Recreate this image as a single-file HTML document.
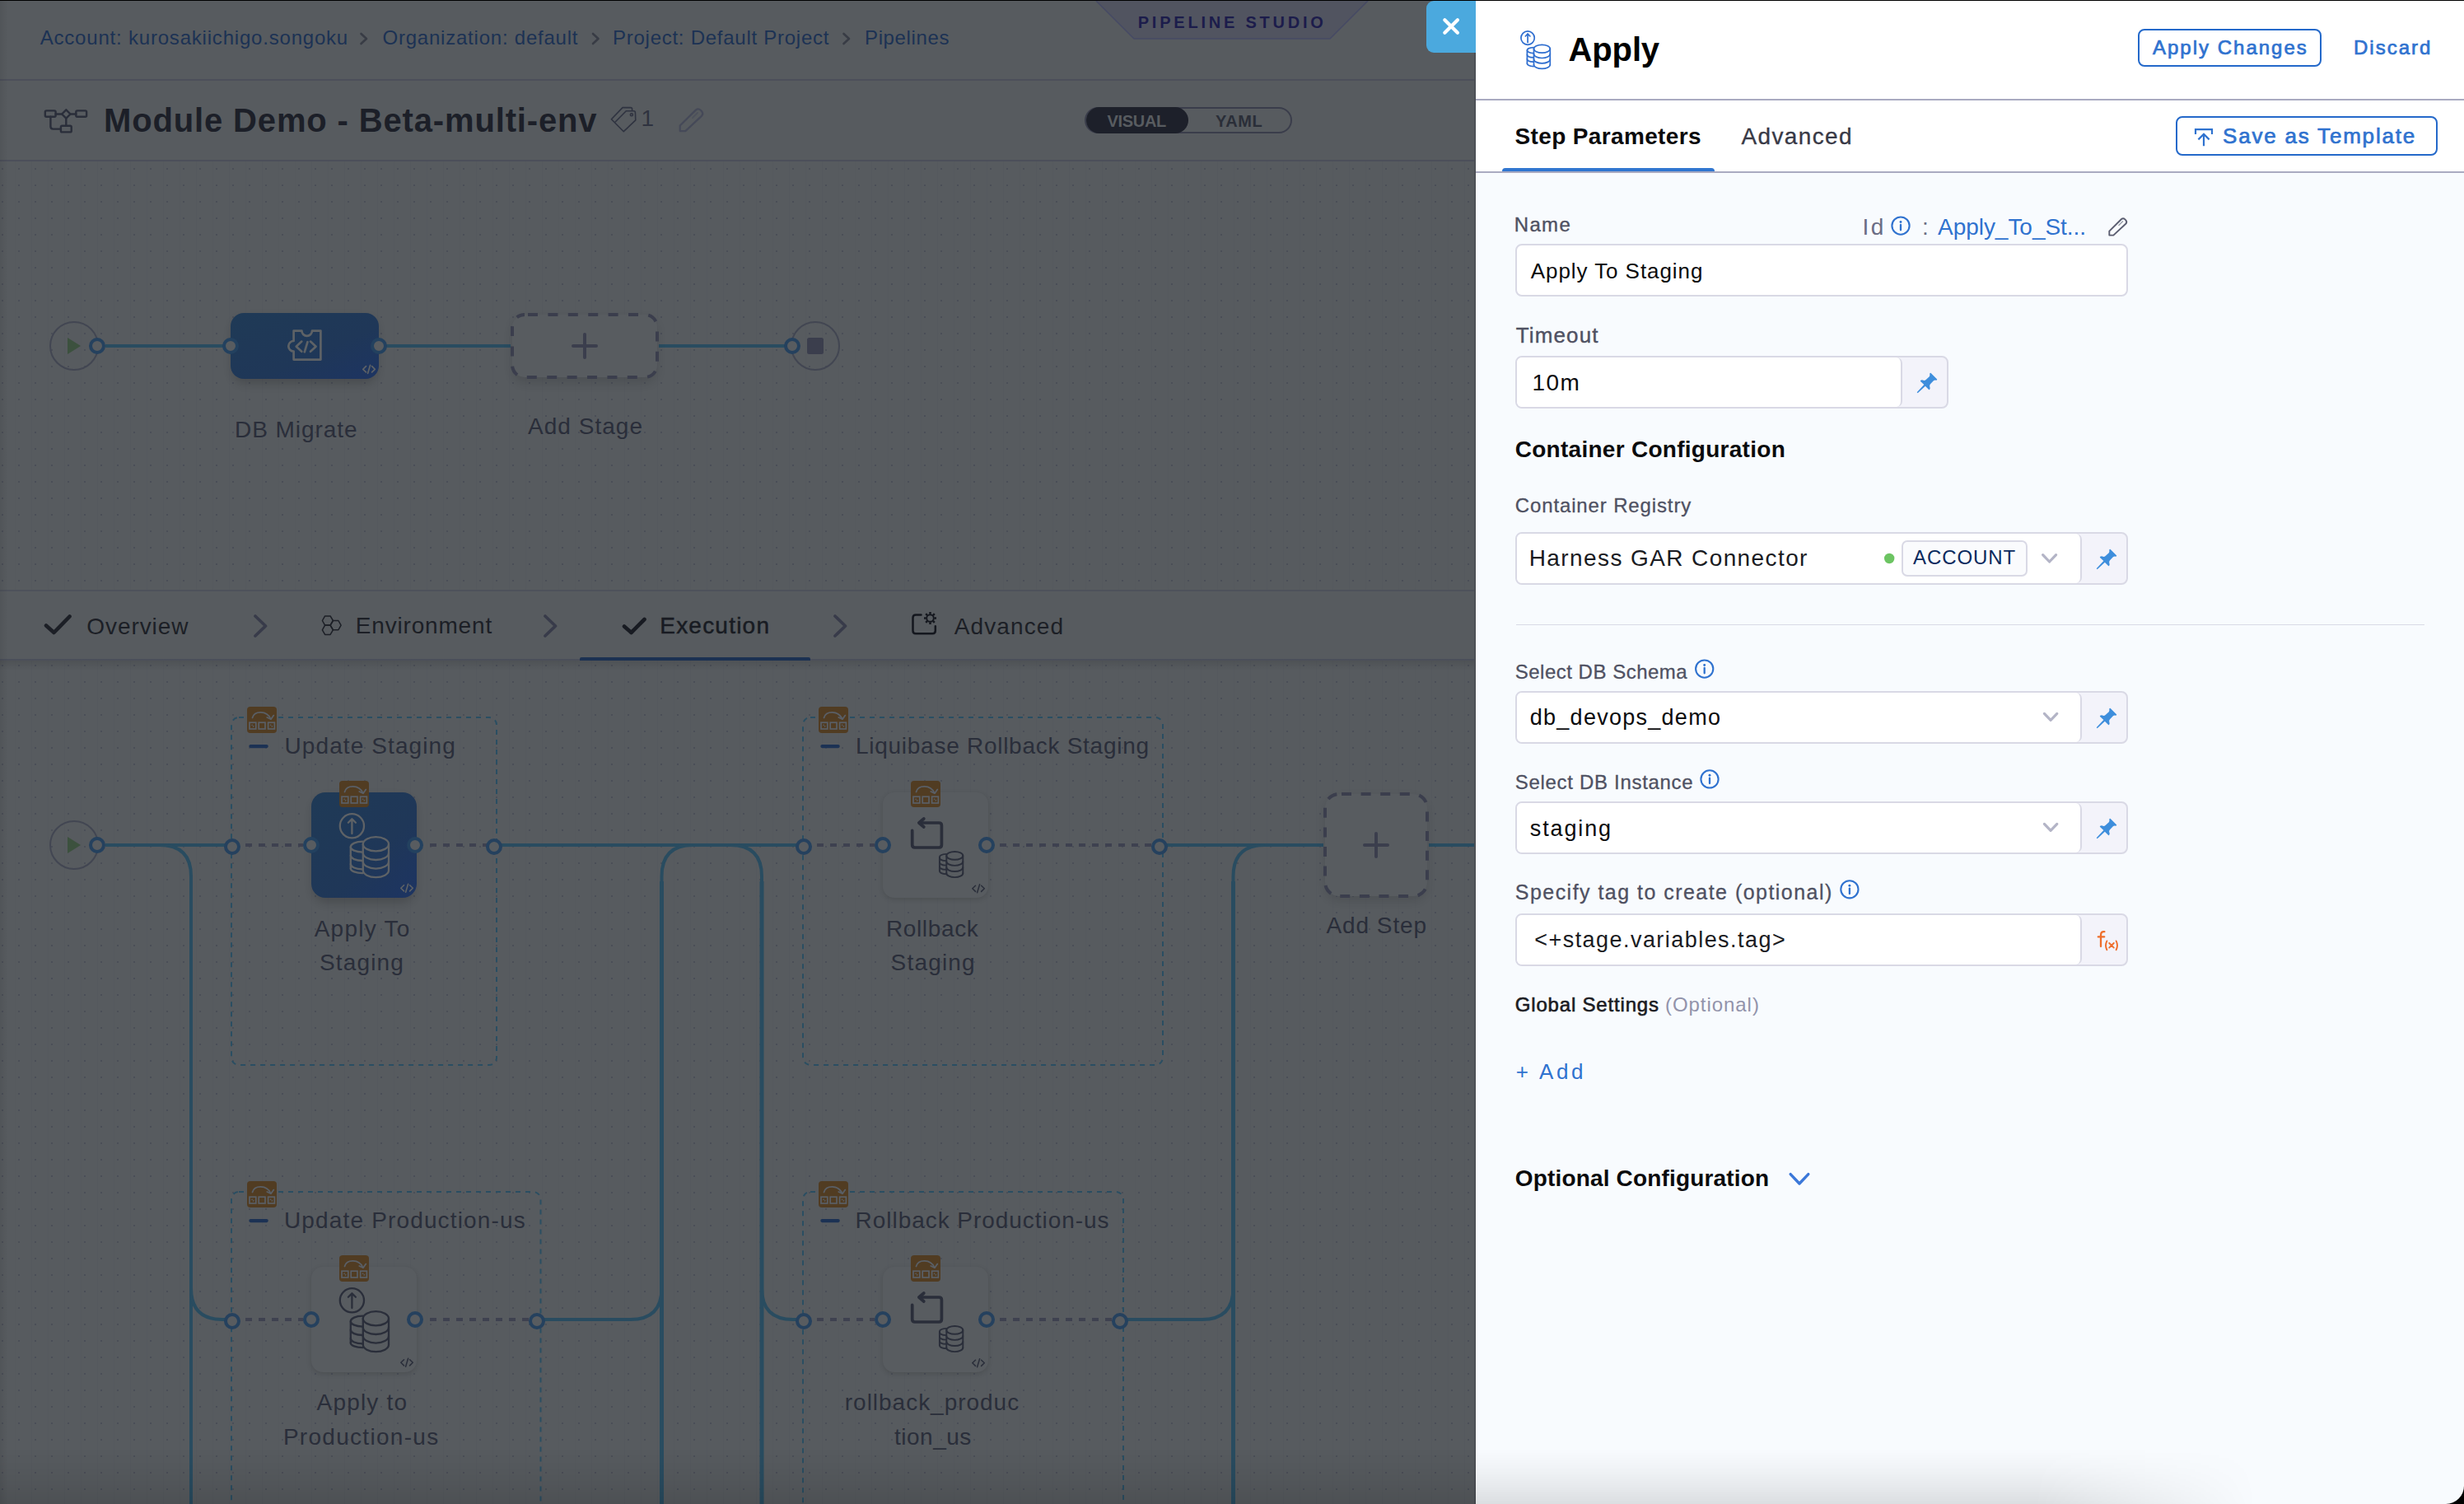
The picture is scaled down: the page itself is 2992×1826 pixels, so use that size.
<!DOCTYPE html>
<html><head><meta charset="utf-8"><title>Pipeline Studio</title>
<style>
html,body{margin:0;padding:0}
body{width:2992px;height:1826px;position:relative;overflow:hidden;background:#575B5F;font-family:"Liberation Sans",sans-serif}
.t{position:absolute;white-space:pre;line-height:1}
.abs{position:absolute}

.inp{position:absolute;box-sizing:border-box;border:2px solid #D9D9E5;border-radius:8px;background:#fff}
.inpw{position:absolute;box-sizing:border-box;border:2px solid #D9D9E5;border-radius:8px;background:#F3F3FA;overflow:hidden}
.inpw .w{position:absolute;left:0;top:0;bottom:0;background:#fff;border-right:2px solid #D9D9E5;border-radius:0 7px 7px 0;box-sizing:border-box}
.btn{position:absolute;box-sizing:border-box;border:2px solid #2469CA;border-radius:8px;background:#fff}

</style></head><body>
<svg class="abs" style="left:0;top:0" width="1792" height="1826" viewBox="0 0 1792 1826"><defs>
<pattern id="dots1" x="0" y="0" width="20" height="20" patternUnits="userSpaceOnUse"><rect x="18" y="0" width="1" height="20" fill="#55595E"/><rect x="2" y="4" width="2" height="2" fill="#4A4E57"/></pattern>
<pattern id="dots2" x="0" y="0" width="20" height="20" patternUnits="userSpaceOnUse"><rect x="18" y="0" width="1" height="20" fill="#55595E"/><rect x="2" y="7" width="2" height="2" fill="#4A4E57"/></pattern>
<linearGradient id="sel" x1="0" y1="0" x2="1" y2="1"><stop offset="0" stop-color="#1F3A56"/><stop offset="0.6" stop-color="#1F3758"/><stop offset="1" stop-color="#1D3462"/></linearGradient>
<linearGradient id="tabsh" x1="0" y1="0" x2="0" y2="1"><stop offset="0" stop-color="#000" stop-opacity="0.10"/><stop offset="1" stop-color="#000" stop-opacity="0"/></linearGradient>
<linearGradient id="lsh" x1="0" y1="0" x2="1" y2="0"><stop offset="0" stop-color="#000" stop-opacity="0.07"/><stop offset="1" stop-color="#000" stop-opacity="0"/></linearGradient>
<filter id="blur3" x="-30%" y="-30%" width="160%" height="160%"><feGaussianBlur stdDeviation="3"/></filter>
<filter id="blur6" x="-30%" y="-30%" width="160%" height="160%"><feGaussianBlur stdDeviation="6"/></filter>
</defs><rect x="0" y="196" width="1792" height="520" fill="url(#dots1)"/><rect x="0" y="802" width="1792" height="1024" fill="url(#dots2)"/><rect x="0" y="96" width="1792" height="2" fill="#4C4F5A"/><rect x="0" y="194" width="1792" height="2" fill="#4C4F5A"/><polygon points="1331,1 1661,1 1615,47 1377,47" fill="#515460"/><path d="M1331 1 L1377 47 L1615 47 L1661 1" fill="none" stroke="#464A64" stroke-width="1.6"/><path d="M438.5 41 L445.0 47 L438.5 53" fill="none" stroke="#383C45" stroke-width="2.6" stroke-linecap="round" stroke-linejoin="round"/><path d="M720 41 L726.5 47 L720 53" fill="none" stroke="#383C45" stroke-width="2.6" stroke-linecap="round" stroke-linejoin="round"/><path d="M1024.5 41 L1031.0 47 L1024.5 53" fill="none" stroke="#383C45" stroke-width="2.6" stroke-linecap="round" stroke-linejoin="round"/><g fill="none" stroke="#2A2E3A" stroke-width="2.4" stroke-linejoin="round" stroke-linecap="round"><rect x="54.8" y="134.4" width="12.8" height="7.4" rx="1.5"/><rect x="92.3" y="134.4" width="12.8" height="7.4" rx="1.5"/><rect x="73.9" y="152.8" width="12.8" height="7.6" rx="1.5"/><path d="M80.3 133.3 L85.5 138.5 L80.3 143.7 L75.1 138.5 Z"/><path d="M67.6 138.5 H75.1 M85.5 138.5 H92.3 M80.3 143.7 V152.8 M61.4 141.8 V153.6 Q61.4 156.6 64.4 156.6 H73.9"/></g><g fill="none" stroke="#2F3340" stroke-width="1.6" stroke-linejoin="round" stroke-linecap="round"><path d="M746.9 148.3 L760.3 134.7 H769.6 Q771.4 134.7 771.4 136.5 L771.8 145.8 L757.3 159.7 L742.4 144.8 L756 130.6 H765.8 Q767.6 130.6 767.6 132.4 V134.4"/><circle cx="766.9" cy="139.2" r="1.5"/></g><g transform="translate(824.5,131.5) scale(1.0)" fill="none" stroke="#454958" stroke-width="2.2" stroke-linejoin="round" stroke-linecap="round"><path d="M1.2 27.6 V21 L20.6 1.9 Q23.4 -0.4 26.3 2.3 L27.8 3.9 Q30 6.8 27.4 9.4 L7.8 27.6 Z"/><path d="M16.4 11.6 L22.6 5.4" stroke-width="1.54" opacity="0.6"/></g><rect x="1318" y="131" width="250" height="30" rx="15" fill="none" stroke="#3A3D4B" stroke-width="2"/><rect x="1319" y="130" width="124" height="32" rx="16" fill="#1D202A"/><g stroke="#294C60" stroke-width="4" fill="none"><path d="M128 420 H272 M468 420 H620 M800 420 H954"/></g><circle cx="90" cy="420" r="29" fill="none" stroke="#424652" stroke-width="2"/><polygon points="82,410 98,420 82,430" fill="#3C513E"/><circle cx="990" cy="420" r="29" fill="none" stroke="#424652" stroke-width="2"/><rect x="980" y="410" width="20" height="20" rx="2.5" fill="#3B3E4D"/><rect x="282" y="386" width="176" height="80" rx="16" fill="#000" opacity="0.16" filter="url(#blur6)"/><rect x="280" y="380" width="180" height="80" rx="16" fill="url(#sel)"/><g fill="none" stroke="#5E6266" stroke-width="2.7" stroke-linejoin="round" stroke-linecap="round"><path d="M356.6 401.6 H366.4 A6.3 6.3 0 0 0 379 401.6 H389.4 V436.6 H356.6 V426.6 A6.3 6.3 0 0 1 356.6 414 Z"/><path d="M366.3 414.6 L359.7 420.7 L366.3 426.8 M373.5 415.2 L369.8 427.3 M377 414.6 L383.6 420.7 L377 426.8"/></g><g transform="translate(440,442.5)" fill="none" stroke="#5E6266" stroke-width="1.7" stroke-linecap="round" stroke-linejoin="round"><path d="M4.5 2.2 L0.8 5.8 L4.5 9.4"/><path d="M9.6 0.8 L6.6 10.8"/><path d="M11.6 2.2 L15.3 5.8 L11.6 9.4"/></g><rect x="622" y="386" width="176" height="80" rx="16" fill="#000" opacity="0.10" filter="url(#blur6)"/><rect x="622" y="382" width="176" height="76" rx="15" fill="#585C60" stroke="#3B3E4D" stroke-width="4" stroke-dasharray="12 12.4" stroke-dashoffset="-4"/><path d="M696 420 H724 M710 406 V434" stroke="#3B3E4D" stroke-width="4" stroke-linecap="round"/><circle cx="118" cy="420" r="8" fill="#585C60" stroke="#25415E" stroke-width="4"/><circle cx="280" cy="420" r="8" fill="#585C60" stroke="#23415F" stroke-width="4"/><circle cx="460" cy="420" r="8" fill="#585C60" stroke="#23415F" stroke-width="4"/><circle cx="962" cy="420" r="8" fill="#585C60" stroke="#25415E" stroke-width="4"/><rect x="0" y="716" width="1792" height="2" fill="#4E525B"/><rect x="0" y="800" width="1792" height="2" fill="#4B4F5A"/><rect x="0" y="802" width="1792" height="12" fill="url(#tabsh)"/><rect x="704" y="798" width="280" height="4" rx="2" fill="#1C3152"/><rect x="704" y="800" width="280" height="2" fill="#1C3152"/><path d="M56 759.5 L65.5 768 L84.5 748.5" fill="none" stroke="#1C1F26" stroke-width="4.6" stroke-linecap="round" stroke-linejoin="round"/><path d="M758 760.5 L766.5 768 L782.5 752" fill="none" stroke="#181B22" stroke-width="4.6" stroke-linecap="round" stroke-linejoin="round"/><path d="M310 748 L322.5 760 L310 772" fill="none" stroke="#383B4A" stroke-width="3.7" stroke-linecap="round" stroke-linejoin="round"/><path d="M662 748 L674.5 760 L662 772" fill="none" stroke="#383B4A" stroke-width="3.7" stroke-linecap="round" stroke-linejoin="round"/><path d="M1014 748 L1026.5 760 L1014 772" fill="none" stroke="#383B4A" stroke-width="3.7" stroke-linecap="round" stroke-linejoin="round"/><g fill="none" stroke="#1C1F26" stroke-width="1.5" stroke-linejoin="round"><polygon points="404.4,753.5 401.1,759.1 394.6,759.1 391.4,753.5 394.6,747.9 401.1,747.9"/><polygon points="404.4,764.8 401.1,770.4 394.6,770.4 391.4,764.8 394.6,759.1 401.1,759.1"/><polygon points="414.1,759.1 410.9,764.7 404.4,764.7 401.1,759.1 404.4,753.5 410.9,753.5"/></g><g fill="none" stroke="#14171E" stroke-width="2.5" stroke-linejoin="round" stroke-linecap="round"><path d="M1118.5 746.5 H1112 Q1108.5 746.5 1108.5 750 V765.7 Q1108.5 769.2 1112 769.2 H1132.3 Q1135.8 769.2 1135.8 765.7 V760.2"/></g><g transform="translate(1129.5,750.5)" stroke="#14171E" fill="none" stroke-linecap="butt"><circle r="4.3" stroke-width="1.9"/><path d="M4.90 0.00 L7.50 0.00" stroke-width="2.5"/><path d="M3.46 3.46 L5.30 5.30" stroke-width="2.5"/><path d="M0.00 4.90 L0.00 7.50" stroke-width="2.5"/><path d="M-3.46 3.46 L-5.30 5.30" stroke-width="2.5"/><path d="M-4.90 0.00 L-7.50 0.00" stroke-width="2.5"/><path d="M-3.46 -3.46 L-5.30 -5.30" stroke-width="2.5"/><path d="M-0.00 -4.90 L-0.00 -7.50" stroke-width="2.5"/><path d="M3.46 -3.46 L5.30 -5.30" stroke-width="2.5"/></g><g stroke="#294C60" stroke-width="4" fill="none"><path d="M128 1026 H274"/><path d="M194 1026 Q232 1026 232 1064 V1826"/><path d="M232 1564 Q232 1602 270 1602 H274"/><path d="M608 1026 H968"/><path d="M660 1602 H765.5 Q803.5 1602 803.5 1564 V1064 Q803.5 1026 841.5 1026"/><path d="M887 1026 Q925 1026 925 1064 V1564 Q925 1602 963 1602 H968"/><path d="M1416 1026 H1607 M1735 1026 H1792"/><path d="M1368 1602 H1459.5 Q1497.5 1602 1497.5 1564 V1064 Q1497.5 1026 1535.5 1026"/></g><g stroke="#294C60" stroke-width="5" fill="none"><path d="M803.5 1070 V1826 M925 1070 V1826 M1497.5 1070 V1826"/></g><g stroke="#3E4150" stroke-width="4" fill="none" stroke-dasharray="8 8"><path d="M298 1026 H368 M522 1026 H592"/><path d="M298 1602 H368 M522 1602 H644"/><path d="M992 1026 H1062 M1214 1026 H1400"/><path d="M992 1602 H1062 M1214 1602 H1352"/></g><rect x="281" y="871" width="322" height="422" rx="9" fill="none" stroke="#2A4E62" stroke-width="2" stroke-dasharray="6 6"/><rect x="975" y="871" width="437" height="422" rx="9" fill="none" stroke="#2A4E62" stroke-width="2" stroke-dasharray="6 6"/><rect x="281" y="1447" width="375.5" height="500" rx="9" fill="none" stroke="#2A4E62" stroke-width="2" stroke-dasharray="6 6"/><rect x="975" y="1447" width="389" height="500" rx="9" fill="none" stroke="#2A4E62" stroke-width="2" stroke-dasharray="6 6"/><g transform="translate(300,858)"><rect width="36" height="32" rx="4" fill="#513C22"/><path d="M6.5 13.5 C 9 4.5, 24 4.5, 28.5 14.5" fill="none" stroke="#5A5F66" stroke-width="1.8" stroke-linecap="round"/><path d="M24.3 13 L29 15.3 L32.3 10.6" fill="none" stroke="#5A5F66" stroke-width="1.8" stroke-linecap="round" stroke-linejoin="round"/><rect x="3" y="19.2" width="7.8" height="7.8" fill="none" stroke="#5A5F66" stroke-width="1.7"/><rect x="14.2" y="19.2" width="7.8" height="7.8" fill="none" stroke="#5A5F66" stroke-width="1.7"/><rect x="25.6" y="19.2" width="7.8" height="7.8" fill="none" stroke="#5A5F66" stroke-width="1.7"/><path d="M5.6 21.8 L8.2 24.4" stroke="#5A5F66" stroke-width="1.6" stroke-dasharray="1.3 1.0"/><path d="M28.200000000000003 21.8 L30.8 24.4" stroke="#5A5F66" stroke-width="1.6" stroke-dasharray="1.3 1.0"/></g><rect x="302.3" y="904" width="23.5" height="4.2" rx="2.1" fill="#1C3254"/><g transform="translate(994,858)"><rect width="36" height="32" rx="4" fill="#513C22"/><path d="M6.5 13.5 C 9 4.5, 24 4.5, 28.5 14.5" fill="none" stroke="#5A5F66" stroke-width="1.8" stroke-linecap="round"/><path d="M24.3 13 L29 15.3 L32.3 10.6" fill="none" stroke="#5A5F66" stroke-width="1.8" stroke-linecap="round" stroke-linejoin="round"/><rect x="3" y="19.2" width="7.8" height="7.8" fill="none" stroke="#5A5F66" stroke-width="1.7"/><rect x="14.2" y="19.2" width="7.8" height="7.8" fill="none" stroke="#5A5F66" stroke-width="1.7"/><rect x="25.6" y="19.2" width="7.8" height="7.8" fill="none" stroke="#5A5F66" stroke-width="1.7"/><path d="M5.6 21.8 L8.2 24.4" stroke="#5A5F66" stroke-width="1.6" stroke-dasharray="1.3 1.0"/><path d="M28.200000000000003 21.8 L30.8 24.4" stroke="#5A5F66" stroke-width="1.6" stroke-dasharray="1.3 1.0"/></g><rect x="996.3" y="904" width="23.5" height="4.2" rx="2.1" fill="#1C3254"/><g transform="translate(300,1434)"><rect width="36" height="32" rx="4" fill="#513C22"/><path d="M6.5 13.5 C 9 4.5, 24 4.5, 28.5 14.5" fill="none" stroke="#5A5F66" stroke-width="1.8" stroke-linecap="round"/><path d="M24.3 13 L29 15.3 L32.3 10.6" fill="none" stroke="#5A5F66" stroke-width="1.8" stroke-linecap="round" stroke-linejoin="round"/><rect x="3" y="19.2" width="7.8" height="7.8" fill="none" stroke="#5A5F66" stroke-width="1.7"/><rect x="14.2" y="19.2" width="7.8" height="7.8" fill="none" stroke="#5A5F66" stroke-width="1.7"/><rect x="25.6" y="19.2" width="7.8" height="7.8" fill="none" stroke="#5A5F66" stroke-width="1.7"/><path d="M5.6 21.8 L8.2 24.4" stroke="#5A5F66" stroke-width="1.6" stroke-dasharray="1.3 1.0"/><path d="M28.200000000000003 21.8 L30.8 24.4" stroke="#5A5F66" stroke-width="1.6" stroke-dasharray="1.3 1.0"/></g><rect x="302.3" y="1480" width="23.5" height="4.2" rx="2.1" fill="#1C3254"/><g transform="translate(994,1434)"><rect width="36" height="32" rx="4" fill="#513C22"/><path d="M6.5 13.5 C 9 4.5, 24 4.5, 28.5 14.5" fill="none" stroke="#5A5F66" stroke-width="1.8" stroke-linecap="round"/><path d="M24.3 13 L29 15.3 L32.3 10.6" fill="none" stroke="#5A5F66" stroke-width="1.8" stroke-linecap="round" stroke-linejoin="round"/><rect x="3" y="19.2" width="7.8" height="7.8" fill="none" stroke="#5A5F66" stroke-width="1.7"/><rect x="14.2" y="19.2" width="7.8" height="7.8" fill="none" stroke="#5A5F66" stroke-width="1.7"/><rect x="25.6" y="19.2" width="7.8" height="7.8" fill="none" stroke="#5A5F66" stroke-width="1.7"/><path d="M5.6 21.8 L8.2 24.4" stroke="#5A5F66" stroke-width="1.6" stroke-dasharray="1.3 1.0"/><path d="M28.200000000000003 21.8 L30.8 24.4" stroke="#5A5F66" stroke-width="1.6" stroke-dasharray="1.3 1.0"/></g><rect x="996.3" y="1480" width="23.5" height="4.2" rx="2.1" fill="#1C3254"/><rect x="380" y="968" width="124" height="128" rx="17" fill="#000" opacity="0.16" filter="url(#blur6)"/><rect x="378" y="962" width="128" height="128" rx="17" fill="url(#sel)"/><g transform="translate(378,962) scale(1.0)" fill="none" stroke="#5E6266" stroke-width="2.3" stroke-linecap="round" stroke-linejoin="round"><circle cx="49.4" cy="40.8" r="14.6"/><path d="M49.4 32.6 V50 M44.9 36.8 L49.4 32.2 L53.9 36.8"/><ellipse cx="78.4" cy="62.8" rx="15.6" ry="8.6"/><path d="M62.8 62.8 V94.6 M94 62.8 V94.6"/><path d="M62.8 73.4 A15.6 8.6 0 0 0 94 73.4"/><path d="M62.8 84.0 A15.6 8.6 0 0 0 94 84.0"/><path d="M62.8 94.6 A15.6 8.6 0 0 0 94 94.6"/><path d="M62.4 59.6 C 54 59.8, 47.8 62.6, 47.8 66.2 V92.4"/><path d="M47.8 66.2 C 47.8 69.8, 54 72.4, 62.4 72.60000000000001"/><path d="M47.8 76.6 C 47.8 80.19999999999999, 54 82.8, 62.4 83.0"/><path d="M47.8 87.0 C 47.8 90.6, 54 93.2, 62.4 93.4"/><path d="M47.8 92.4 C 47.8 95.4, 54 98, 62.4 98.2"/></g><g transform="translate(486,1072.5)" fill="none" stroke="#5E6266" stroke-width="1.6" stroke-linecap="round" stroke-linejoin="round"><path d="M4.5 2.2 L0.8 5.8 L4.5 9.4"/><path d="M9.6 0.8 L6.6 10.8"/><path d="M11.6 2.2 L15.3 5.8 L11.6 9.4"/></g><rect x="1072" y="964" width="128" height="128" rx="14" fill="#000" opacity="0.13" filter="url(#blur3)"/><rect x="1072" y="962" width="128" height="128" rx="14" fill="#585C60"/><g transform="translate(1072,962)" fill="none" stroke="#2A2E3A" stroke-linecap="round" stroke-linejoin="round"><path d="M35.7 46.4 V63.8 Q35.7 67 38.9 67 H68.2 Q71.4 67 71.4 63.8 V40.2 Q71.4 37 68.2 37 H44.4" stroke-width="3.7"/><path d="M49.8 32 L43.9 37 L49.8 42" stroke-width="3.7"/><g stroke-width="1.9"><ellipse cx="87.3" cy="76.9" rx="10" ry="4.9"/><path d="M77.3 76.9 V98.2 M97.3 76.9 V98.2"/><path d="M77.3 84.0 A10 4.9 0 0 0 97.3 84.0"/><path d="M77.3 91.1 A10 4.9 0 0 0 97.3 91.1"/><path d="M77.3 98.2 A10 4.9 0 0 0 97.3 98.2"/><path d="M77.1 74.9 C 72 75.1, 68.9 76.8, 68.9 78.8 V95.3"/><path d="M68.9 79.2 C 68.9 81.5, 72 82.9, 77.1 83.10000000000001"/><path d="M68.9 84.7 C 68.9 87.0, 72 88.4, 77.1 88.60000000000001"/><path d="M68.9 89.9 C 68.9 92.2, 72 93.60000000000001, 77.1 93.80000000000001"/><path d="M68.9 95.3 C 68.9 97.6, 72 99.0, 77.1 99.2"/></g></g><g transform="translate(1180,1073)" fill="none" stroke="#2A2E3A" stroke-width="1.5" stroke-linecap="round" stroke-linejoin="round"><path d="M4.5 2.2 L0.8 5.8 L4.5 9.4"/><path d="M9.6 0.8 L6.6 10.8"/><path d="M11.6 2.2 L15.3 5.8 L11.6 9.4"/></g><rect x="378" y="1540" width="128" height="128" rx="14" fill="#000" opacity="0.13" filter="url(#blur3)"/><rect x="378" y="1538" width="128" height="128" rx="14" fill="#585C60"/><g transform="translate(378,1538) scale(1.0)" fill="none" stroke="#2A2E3A" stroke-width="2.3" stroke-linecap="round" stroke-linejoin="round"><circle cx="49.4" cy="40.8" r="14.6"/><path d="M49.4 32.6 V50 M44.9 36.8 L49.4 32.2 L53.9 36.8"/><ellipse cx="78.4" cy="62.8" rx="15.6" ry="8.6"/><path d="M62.8 62.8 V94.6 M94 62.8 V94.6"/><path d="M62.8 73.4 A15.6 8.6 0 0 0 94 73.4"/><path d="M62.8 84.0 A15.6 8.6 0 0 0 94 84.0"/><path d="M62.8 94.6 A15.6 8.6 0 0 0 94 94.6"/><path d="M62.4 59.6 C 54 59.8, 47.8 62.6, 47.8 66.2 V92.4"/><path d="M47.8 66.2 C 47.8 69.8, 54 72.4, 62.4 72.60000000000001"/><path d="M47.8 76.6 C 47.8 80.19999999999999, 54 82.8, 62.4 83.0"/><path d="M47.8 87.0 C 47.8 90.6, 54 93.2, 62.4 93.4"/><path d="M47.8 92.4 C 47.8 95.4, 54 98, 62.4 98.2"/></g><g transform="translate(486,1648.5)" fill="none" stroke="#2A2E3A" stroke-width="1.5" stroke-linecap="round" stroke-linejoin="round"><path d="M4.5 2.2 L0.8 5.8 L4.5 9.4"/><path d="M9.6 0.8 L6.6 10.8"/><path d="M11.6 2.2 L15.3 5.8 L11.6 9.4"/></g><rect x="1072" y="1540" width="128" height="128" rx="14" fill="#000" opacity="0.13" filter="url(#blur3)"/><rect x="1072" y="1538" width="128" height="128" rx="14" fill="#585C60"/><g transform="translate(1072,1538)" fill="none" stroke="#2A2E3A" stroke-linecap="round" stroke-linejoin="round"><path d="M35.7 46.4 V63.8 Q35.7 67 38.9 67 H68.2 Q71.4 67 71.4 63.8 V40.2 Q71.4 37 68.2 37 H44.4" stroke-width="3.7"/><path d="M49.8 32 L43.9 37 L49.8 42" stroke-width="3.7"/><g stroke-width="1.9"><ellipse cx="87.3" cy="76.9" rx="10" ry="4.9"/><path d="M77.3 76.9 V98.2 M97.3 76.9 V98.2"/><path d="M77.3 84.0 A10 4.9 0 0 0 97.3 84.0"/><path d="M77.3 91.1 A10 4.9 0 0 0 97.3 91.1"/><path d="M77.3 98.2 A10 4.9 0 0 0 97.3 98.2"/><path d="M77.1 74.9 C 72 75.1, 68.9 76.8, 68.9 78.8 V95.3"/><path d="M68.9 79.2 C 68.9 81.5, 72 82.9, 77.1 83.10000000000001"/><path d="M68.9 84.7 C 68.9 87.0, 72 88.4, 77.1 88.60000000000001"/><path d="M68.9 89.9 C 68.9 92.2, 72 93.60000000000001, 77.1 93.80000000000001"/><path d="M68.9 95.3 C 68.9 97.6, 72 99.0, 77.1 99.2"/></g></g><g transform="translate(1180,1649)" fill="none" stroke="#2A2E3A" stroke-width="1.5" stroke-linecap="round" stroke-linejoin="round"><path d="M4.5 2.2 L0.8 5.8 L4.5 9.4"/><path d="M9.6 0.8 L6.6 10.8"/><path d="M11.6 2.2 L15.3 5.8 L11.6 9.4"/></g><g transform="translate(412,948)"><rect width="36" height="32" rx="4" fill="#513C22"/><path d="M6.5 13.5 C 9 4.5, 24 4.5, 28.5 14.5" fill="none" stroke="#5A5F66" stroke-width="1.8" stroke-linecap="round"/><path d="M24.3 13 L29 15.3 L32.3 10.6" fill="none" stroke="#5A5F66" stroke-width="1.8" stroke-linecap="round" stroke-linejoin="round"/><rect x="3" y="19.2" width="7.8" height="7.8" fill="none" stroke="#5A5F66" stroke-width="1.7"/><rect x="14.2" y="19.2" width="7.8" height="7.8" fill="none" stroke="#5A5F66" stroke-width="1.7"/><rect x="25.6" y="19.2" width="7.8" height="7.8" fill="none" stroke="#5A5F66" stroke-width="1.7"/><path d="M5.6 21.8 L8.2 24.4" stroke="#5A5F66" stroke-width="1.6" stroke-dasharray="1.3 1.0"/><path d="M28.200000000000003 21.8 L30.8 24.4" stroke="#5A5F66" stroke-width="1.6" stroke-dasharray="1.3 1.0"/></g><g transform="translate(1106,948)"><rect width="36" height="32" rx="4" fill="#513C22"/><path d="M6.5 13.5 C 9 4.5, 24 4.5, 28.5 14.5" fill="none" stroke="#5A5F66" stroke-width="1.8" stroke-linecap="round"/><path d="M24.3 13 L29 15.3 L32.3 10.6" fill="none" stroke="#5A5F66" stroke-width="1.8" stroke-linecap="round" stroke-linejoin="round"/><rect x="3" y="19.2" width="7.8" height="7.8" fill="none" stroke="#5A5F66" stroke-width="1.7"/><rect x="14.2" y="19.2" width="7.8" height="7.8" fill="none" stroke="#5A5F66" stroke-width="1.7"/><rect x="25.6" y="19.2" width="7.8" height="7.8" fill="none" stroke="#5A5F66" stroke-width="1.7"/><path d="M5.6 21.8 L8.2 24.4" stroke="#5A5F66" stroke-width="1.6" stroke-dasharray="1.3 1.0"/><path d="M28.200000000000003 21.8 L30.8 24.4" stroke="#5A5F66" stroke-width="1.6" stroke-dasharray="1.3 1.0"/></g><g transform="translate(412,1524)"><rect width="36" height="32" rx="4" fill="#513C22"/><path d="M6.5 13.5 C 9 4.5, 24 4.5, 28.5 14.5" fill="none" stroke="#5A5F66" stroke-width="1.8" stroke-linecap="round"/><path d="M24.3 13 L29 15.3 L32.3 10.6" fill="none" stroke="#5A5F66" stroke-width="1.8" stroke-linecap="round" stroke-linejoin="round"/><rect x="3" y="19.2" width="7.8" height="7.8" fill="none" stroke="#5A5F66" stroke-width="1.7"/><rect x="14.2" y="19.2" width="7.8" height="7.8" fill="none" stroke="#5A5F66" stroke-width="1.7"/><rect x="25.6" y="19.2" width="7.8" height="7.8" fill="none" stroke="#5A5F66" stroke-width="1.7"/><path d="M5.6 21.8 L8.2 24.4" stroke="#5A5F66" stroke-width="1.6" stroke-dasharray="1.3 1.0"/><path d="M28.200000000000003 21.8 L30.8 24.4" stroke="#5A5F66" stroke-width="1.6" stroke-dasharray="1.3 1.0"/></g><g transform="translate(1106,1524)"><rect width="36" height="32" rx="4" fill="#513C22"/><path d="M6.5 13.5 C 9 4.5, 24 4.5, 28.5 14.5" fill="none" stroke="#5A5F66" stroke-width="1.8" stroke-linecap="round"/><path d="M24.3 13 L29 15.3 L32.3 10.6" fill="none" stroke="#5A5F66" stroke-width="1.8" stroke-linecap="round" stroke-linejoin="round"/><rect x="3" y="19.2" width="7.8" height="7.8" fill="none" stroke="#5A5F66" stroke-width="1.7"/><rect x="14.2" y="19.2" width="7.8" height="7.8" fill="none" stroke="#5A5F66" stroke-width="1.7"/><rect x="25.6" y="19.2" width="7.8" height="7.8" fill="none" stroke="#5A5F66" stroke-width="1.7"/><path d="M5.6 21.8 L8.2 24.4" stroke="#5A5F66" stroke-width="1.6" stroke-dasharray="1.3 1.0"/><path d="M28.200000000000003 21.8 L30.8 24.4" stroke="#5A5F66" stroke-width="1.6" stroke-dasharray="1.3 1.0"/></g><rect x="1609" y="968" width="124" height="126" rx="18" fill="#000" opacity="0.10" filter="url(#blur6)"/><rect x="1609" y="964" width="124" height="124" rx="17" fill="#585C60" stroke="#3B3E4D" stroke-width="4" stroke-dasharray="12 11.6" stroke-dashoffset="-3"/><path d="M1657 1026 H1685 M1671 1012 V1040" stroke="#3B3E4D" stroke-width="4" stroke-linecap="round"/><circle cx="90" cy="1026" r="29" fill="none" stroke="#424652" stroke-width="2"/><polygon points="82,1016 98,1026 82,1036" fill="#3C513E"/><circle cx="118" cy="1026" r="8" fill="#585C60" stroke="#25415E" stroke-width="4"/><circle cx="282" cy="1028" r="8" fill="#585C60" stroke="#25415E" stroke-width="4"/><circle cx="976" cy="1028" r="8" fill="#585C60" stroke="#25415E" stroke-width="4"/><circle cx="282" cy="1604" r="8" fill="#585C60" stroke="#25415E" stroke-width="4"/><circle cx="976" cy="1604" r="8" fill="#585C60" stroke="#25415E" stroke-width="4"/><circle cx="600" cy="1028" r="8" fill="#585C60" stroke="#25415E" stroke-width="4"/><circle cx="1408" cy="1028" r="8" fill="#585C60" stroke="#25415E" stroke-width="4"/><circle cx="652" cy="1604" r="8" fill="#585C60" stroke="#25415E" stroke-width="4"/><circle cx="1360" cy="1604" r="8" fill="#585C60" stroke="#25415E" stroke-width="4"/><circle cx="378" cy="1026" r="8" fill="#585C60" stroke="#23415F" stroke-width="4"/><circle cx="504" cy="1026" r="8" fill="#585C60" stroke="#23415F" stroke-width="4"/><circle cx="1072" cy="1026" r="8" fill="#585C60" stroke="#25415E" stroke-width="4"/><circle cx="1198" cy="1026" r="8" fill="#585C60" stroke="#25415E" stroke-width="4"/><circle cx="378" cy="1602" r="8" fill="#585C60" stroke="#25415E" stroke-width="4"/><circle cx="504" cy="1602" r="8" fill="#585C60" stroke="#25415E" stroke-width="4"/><circle cx="1072" cy="1602" r="8" fill="#585C60" stroke="#25415E" stroke-width="4"/><circle cx="1198" cy="1602" r="8" fill="#585C60" stroke="#25415E" stroke-width="4"/><rect x="0" y="1" width="10" height="1826" fill="url(#lsh)"/></svg>
<div class="abs" style="left:1792px;top:1px;width:1200px;height:1825px;background:#F8FBFE"></div><div class="abs" style="left:1792px;top:1px;width:1200px;height:208px;background:#fff"></div><div class="abs" style="left:1790px;top:1px;width:2px;height:1825px;background:linear-gradient(to right,#52565B,#44474D)"></div><div class="abs" style="left:1792px;top:210px;width:1.4px;height:1616px;background:#fff"></div><div class="abs" style="left:1732px;top:1px;width:60px;height:63px;background:#4BA9DE;border-radius:9px 0 0 9px"></div><div class="abs" style="left:1792px;top:120px;width:1200px;height:2px;background:#A9AAC1"></div><div class="abs" style="left:1792px;top:208px;width:1200px;height:2px;background:#A9AAC1"></div><div class="abs" style="left:1824px;top:204px;width:258px;height:4px;background:#3076D0;border-radius:4px 4px 0 0"></div><div class="btn" style="left:2596px;top:35px;width:223px;height:46px"></div><div class="btn" style="left:2642px;top:141px;width:318px;height:48px"></div><div class="inp" style="left:1840px;top:296px;width:744px;height:64px"></div><div class="inpw" style="left:1840px;top:432px;width:526px;height:64px"><div class="w" style="width:468px"></div></div><div class="inpw" style="left:1840px;top:646px;width:744px;height:64px"><div class="w" style="width:686px"></div></div><div class="inpw" style="left:1840px;top:839px;width:744px;height:64px"><div class="w" style="width:686px"></div></div><div class="inpw" style="left:1840px;top:973px;width:744px;height:64px"><div class="w" style="width:686px"></div></div><div class="inpw" style="left:1840px;top:1109px;width:744px;height:64px"><div class="w" style="width:686px"></div></div><div class="abs" style="left:2309px;top:656px;width:153px;height:44px;box-sizing:border-box;border:2px solid #D9D9E5;border-radius:7px;background:#FAFBFD"></div><div class="abs" style="left:1841px;top:757.5px;width:1103px;height:1.6px;background:#D9DAE5"></div><svg class="abs" style="left:0;top:0" width="2992" height="1826" viewBox="0 0 2992 1826"><path d="M1754.3 24.2 L1769.9 39.8 M1769.9 24.2 L1754.3 39.8" stroke="#fff" stroke-width="4.2" stroke-linecap="round"/><g fill="none" stroke="#2F6ECF" stroke-width="1.7" stroke-linecap="round" stroke-linejoin="round"><circle cx="1855.1" cy="46.1" r="8.2"/><path d="M1855.1 41.4 V51.5"/><path d="M1852.3 44 L1855.1 41 L1857.9 44"/><ellipse cx="1872.4" cy="59.3" rx="9.9" ry="4.9"/><path d="M1862.5 59.3 V78.5 M1882.3 59.3 V78.5"/><path d="M1862.5 65.6 A9.9 4.9 0 0 0 1882.3 65.6"/><path d="M1862.5 71.9 A9.9 4.9 0 0 0 1882.3 71.9"/><path d="M1862.5 78.5 A9.9 4.9 0 0 0 1882.3 78.5"/><path d="M1862.3 57.6 C 1857.5 57.8, 1854.4 59.4, 1854.4 61.1 V77.1"/><path d="M1854.4 61.1 C 1854.4 63.300000000000004, 1857.5 64.4, 1862.3 64.6"/><path d="M1854.4 66.4 C 1854.4 68.60000000000001, 1857.5 69.7, 1862.3 69.9"/><path d="M1854.4 71.7 C 1854.4 73.9, 1857.5 75.0, 1862.3 75.2"/><path d="M1854.4 77.1 C 1854.4 79.3, 1857.5 80.39999999999999, 1862.3 80.6"/></g><g stroke="#2F72CF" stroke-width="2.2" fill="none" stroke-linecap="butt" stroke-linejoin="miter"><path d="M2666 163 V157.2 H2686 V163"/><path d="M2676 177.2 V163 M2669.4 169.4 L2676 162.8 L2682.6 169.4"/></g><g transform="translate(2296.3,262.4)"><circle cx="11.7" cy="11.7" r="10.6" fill="none" stroke="#2F72CF" stroke-width="2.1"/><circle cx="11.7" cy="7.1" r="1.45" fill="#2F72CF"/><path d="M11.7 10.5 V16.9" stroke="#2F72CF" stroke-width="2.3" stroke-linecap="round"/></g><g transform="translate(2058,800.4)"><circle cx="11.7" cy="11.7" r="10.6" fill="none" stroke="#2F72CF" stroke-width="2.1"/><circle cx="11.7" cy="7.1" r="1.45" fill="#2F72CF"/><path d="M11.7 10.5 V16.9" stroke="#2F72CF" stroke-width="2.3" stroke-linecap="round"/></g><g transform="translate(2064.3,934.2)"><circle cx="11.7" cy="11.7" r="10.6" fill="none" stroke="#2F72CF" stroke-width="2.1"/><circle cx="11.7" cy="7.1" r="1.45" fill="#2F72CF"/><path d="M11.7 10.5 V16.9" stroke="#2F72CF" stroke-width="2.3" stroke-linecap="round"/></g><g transform="translate(2234.2,1068.1)"><circle cx="11.7" cy="11.7" r="10.6" fill="none" stroke="#2F72CF" stroke-width="2.1"/><circle cx="11.7" cy="7.1" r="1.45" fill="#2F72CF"/><path d="M11.7 10.5 V16.9" stroke="#2F72CF" stroke-width="2.3" stroke-linecap="round"/></g><g transform="translate(2560.4,264.6) scale(0.76)" fill="none" stroke="#5A5D70" stroke-width="2.5" stroke-linejoin="round" stroke-linecap="round"><path d="M1.2 27.6 V21 L20.6 1.9 Q23.4 -0.4 26.3 2.3 L27.8 3.9 Q30 6.8 27.4 9.4 L7.8 27.6 Z"/><path d="M16.4 11.6 L22.6 5.4" stroke-width="1.75" opacity="0.6"/></g><path transform="matrix(0.70711 -0.70711 0.70711 0.70711 2337.1 467.9)" d="M-12.6 0.7 L-12.6 -0.7 L0 -1.1 L0 -7.1 Q0 -7.9 0.9 -7.7 Q2.7 -7.3 3.3 -5.4 Q4 -4 6 -3.8 L11.6 -3.6 Q13.2 -3.8 14.4 -5.7 Q15 -6.2 15.9 -5.5 L15.9 5.5 Q15 6.2 14.4 5.7 Q13.2 3.8 11.6 3.6 L6 3.8 Q4 4 3.3 5.4 Q2.7 7.3 0.9 7.7 Q0 7.9 0 7.1 L0 1.1 Z" fill="#3E8EDC"/><path transform="matrix(0.70711 -0.70711 0.70711 0.70711 2555.1 681.9)" d="M-12.6 0.7 L-12.6 -0.7 L0 -1.1 L0 -7.1 Q0 -7.9 0.9 -7.7 Q2.7 -7.3 3.3 -5.4 Q4 -4 6 -3.8 L11.6 -3.6 Q13.2 -3.8 14.4 -5.7 Q15 -6.2 15.9 -5.5 L15.9 5.5 Q15 6.2 14.4 5.7 Q13.2 3.8 11.6 3.6 L6 3.8 Q4 4 3.3 5.4 Q2.7 7.3 0.9 7.7 Q0 7.9 0 7.1 L0 1.1 Z" fill="#3E8EDC"/><path transform="matrix(0.70711 -0.70711 0.70711 0.70711 2555.1 874.9)" d="M-12.6 0.7 L-12.6 -0.7 L0 -1.1 L0 -7.1 Q0 -7.9 0.9 -7.7 Q2.7 -7.3 3.3 -5.4 Q4 -4 6 -3.8 L11.6 -3.6 Q13.2 -3.8 14.4 -5.7 Q15 -6.2 15.9 -5.5 L15.9 5.5 Q15 6.2 14.4 5.7 Q13.2 3.8 11.6 3.6 L6 3.8 Q4 4 3.3 5.4 Q2.7 7.3 0.9 7.7 Q0 7.9 0 7.1 L0 1.1 Z" fill="#3E8EDC"/><path transform="matrix(0.70711 -0.70711 0.70711 0.70711 2555.1 1008.9)" d="M-12.6 0.7 L-12.6 -0.7 L0 -1.1 L0 -7.1 Q0 -7.9 0.9 -7.7 Q2.7 -7.3 3.3 -5.4 Q4 -4 6 -3.8 L11.6 -3.6 Q13.2 -3.8 14.4 -5.7 Q15 -6.2 15.9 -5.5 L15.9 5.5 Q15 6.2 14.4 5.7 Q13.2 3.8 11.6 3.6 L6 3.8 Q4 4 3.3 5.4 Q2.7 7.3 0.9 7.7 Q0 7.9 0 7.1 L0 1.1 Z" fill="#3E8EDC"/><circle cx="2294.2" cy="678" r="6.2" fill="#6CC462"/><path d="M2480.6 673.6 L2488.6 682.0 L2496.6 673.6" fill="none" stroke="#B3B4C6" stroke-width="3.2" stroke-linecap="round" stroke-linejoin="round"/><path d="M2482.4 866.4 L2490.1 874.4 L2497.8 866.4" fill="none" stroke="#B3B4C6" stroke-width="3.2" stroke-linecap="round" stroke-linejoin="round"/><path d="M2482.4 1000.4 L2490.1 1008.4 L2497.8 1000.4" fill="none" stroke="#B3B4C6" stroke-width="3.2" stroke-linecap="round" stroke-linejoin="round"/><g fill="none" stroke="#EE6F2C" stroke-linecap="round" stroke-linejoin="round"><path d="M2555.4 1131.2 Q2551 1130.6 2551 1135.4 V1149" stroke-width="2.3"/><path d="M2547.8 1137.4 H2555.2" stroke-width="2.3"/><path d="M2558.4 1142.4 Q2555.6 1147.8 2558.4 1153.2 M2569.6 1142.4 Q2572.4 1147.8 2569.6 1153.2" stroke-width="1.9"/><path d="M2561.2 1145 L2566.8 1150.6 M2566.8 1145 L2561.2 1150.6" stroke-width="1.9"/></g><path d="M2174.2 1425.6 L2185.0 1437.0 L2195.7999999999997 1425.6" fill="none" stroke="#3B78D9" stroke-width="3.4" stroke-linecap="round" stroke-linejoin="round"/></svg>
<div class="t" style="left:48.70px;top:34.18px;font-size:24px;font-weight:400;letter-spacing:0.800px;color:#1C3254;">Account: kurosakiichigo.songoku</div>
<div class="t" style="left:464.50px;top:34.18px;font-size:24px;font-weight:400;letter-spacing:0.775px;color:#1C3254;">Organization: default</div>
<div class="t" style="left:744.00px;top:34.18px;font-size:24px;font-weight:400;letter-spacing:0.739px;color:#1C3254;">Project: Default Project</div>
<div class="t" style="left:1050.00px;top:34.18px;font-size:24px;font-weight:400;letter-spacing:0.625px;color:#1C3254;">Pipelines</div>
<div class="t" style="left:126.00px;top:126.14px;font-size:40px;font-weight:700;letter-spacing:0.852px;color:#1C1F28;">Module Demo - Beta-multi-env</div>
<div class="t" style="left:778.50px;top:130.30px;font-size:28px;font-weight:400;letter-spacing:0.000px;color:#2F3340;">1</div>
<div class="t" style="left:1381.70px;top:16.97px;font-size:20px;font-weight:700;letter-spacing:3.779px;color:#1C1C4B;">PIPELINE STUDIO</div>
<div class="t" style="left:1344.50px;top:137.07px;font-size:20px;font-weight:700;letter-spacing:-0.300px;color:#585C60;">VISUAL</div>
<div class="t" style="left:1476.00px;top:137.07px;font-size:20px;font-weight:700;letter-spacing:0.667px;color:#2A2E38;">YAML</div>
<div class="t" style="left:285.00px;top:508.30px;font-size:28px;font-weight:400;letter-spacing:0.944px;color:#2A2E3A;">DB Migrate</div>
<div class="t" style="left:641.00px;top:504.30px;font-size:28px;font-weight:400;letter-spacing:1.031px;color:#2A2E3A;">Add Stage</div>
<div class="t" style="left:105.25px;top:747.30px;font-size:28px;font-weight:400;letter-spacing:0.929px;color:#1C1F26;">Overview</div>
<div class="t" style="left:431.75px;top:746.30px;font-size:28px;font-weight:400;letter-spacing:0.825px;color:#1C1F26;">Environment</div>
<div class="t" style="left:801.25px;top:746.30px;font-size:28px;font-weight:400;letter-spacing:1.219px;color:#181B22;-webkit-text-stroke:0.5px #181B22;">Execution</div>
<div class="t" style="left:1158.70px;top:747.30px;font-size:28px;font-weight:400;letter-spacing:1.129px;color:#1C1F26;">Advanced</div>
<div class="t" style="left:345.50px;top:891.80px;font-size:28px;font-weight:400;letter-spacing:1.096px;color:#2A2E3A;">Update Staging</div>
<div class="t" style="left:1039.00px;top:891.80px;font-size:28px;font-weight:400;letter-spacing:0.730px;color:#2A2E3A;">Liquibase Rollback Staging</div>
<div class="t" style="left:345.00px;top:1468.30px;font-size:28px;font-weight:400;letter-spacing:1.153px;color:#2A2E3A;">Update Production-us</div>
<div class="t" style="left:1038.60px;top:1468.30px;font-size:28px;font-weight:400;letter-spacing:0.952px;color:#2A2E3A;">Rollback Production-us</div>
<div class="t" style="left:381.70px;top:1114.00px;font-size:28px;font-weight:400;letter-spacing:1.243px;color:#2A2E3A;">Apply To</div>
<div class="t" style="left:388.00px;top:1155.30px;font-size:28px;font-weight:400;letter-spacing:1.150px;color:#2A2E3A;">Staging</div>
<div class="t" style="left:1075.90px;top:1114.00px;font-size:28px;font-weight:400;letter-spacing:0.643px;color:#2A2E3A;">Rollback</div>
<div class="t" style="left:1081.60px;top:1155.30px;font-size:28px;font-weight:400;letter-spacing:1.183px;color:#2A2E3A;">Staging</div>
<div class="t" style="left:1610.40px;top:1110.30px;font-size:28px;font-weight:400;letter-spacing:0.943px;color:#2A2E3A;">Add Step</div>
<div class="t" style="left:384.60px;top:1689.30px;font-size:28px;font-weight:400;letter-spacing:1.171px;color:#2A2E3A;">Apply to</div>
<div class="t" style="left:343.90px;top:1731.30px;font-size:28px;font-weight:400;letter-spacing:1.292px;color:#2A2E3A;">Production-us</div>
<div class="t" style="left:1025.80px;top:1689.30px;font-size:28px;font-weight:400;letter-spacing:0.979px;color:#2A2E3A;">rollback_produc</div>
<div class="t" style="left:1086.00px;top:1731.30px;font-size:28px;font-weight:400;letter-spacing:0.500px;color:#2A2E3A;">tion_us</div>
<div class="t" style="left:1904.50px;top:40.39px;font-size:40px;font-weight:700;letter-spacing:-0.125px;color:#000;">Apply</div>
<div class="t" style="left:2614.00px;top:45.93px;font-size:24px;font-weight:400;letter-spacing:2.000px;color:#2F72CF;-webkit-text-stroke:0.7px #2F72CF;">Apply Changes</div>
<div class="t" style="left:2858.00px;top:45.93px;font-size:24px;font-weight:400;letter-spacing:2.000px;color:#2F72CF;-webkit-text-stroke:0.7px #2F72CF;">Discard</div>
<div class="t" style="left:1839.50px;top:152.05px;font-size:28px;font-weight:700;letter-spacing:0.357px;color:#0B0B0D;">Step Parameters</div>
<div class="t" style="left:2114.50px;top:152.05px;font-size:28px;font-weight:400;letter-spacing:1.357px;color:#383946;-webkit-text-stroke:0.3px #383946;">Advanced</div>
<div class="t" style="left:2699.00px;top:151.99px;font-size:26px;font-weight:400;letter-spacing:1.800px;color:#2F72CF;-webkit-text-stroke:0.7px #2F72CF;">Save as Template</div>
<div class="t" style="left:1838.75px;top:261.43px;font-size:24px;font-weight:400;letter-spacing:1.333px;color:#4F5162;-webkit-text-stroke:0.4px #4F5162;">Name</div>
<div class="t" style="left:2261.50px;top:261.80px;font-size:28px;font-weight:400;letter-spacing:2.500px;color:#6B6D85;">Id</div>
<div class="t" style="left:2334.00px;top:261.80px;font-size:28px;font-weight:400;letter-spacing:0.000px;color:#6B6D85;">:</div>
<div class="t" style="left:2353.00px;top:261.80px;font-size:28px;font-weight:400;letter-spacing:-0.038px;color:#2F72CF;">Apply_To_St...</div>
<div class="t" style="left:1858.75px;top:316.24px;font-size:26px;font-weight:400;letter-spacing:0.933px;color:#0B0B0D;">Apply To Staging</div>
<div class="t" style="left:1840.75px;top:394.24px;font-size:26px;font-weight:400;letter-spacing:1.125px;color:#4F5162;-webkit-text-stroke:0.4px #4F5162;">Timeout</div>
<div class="t" style="left:1860.50px;top:450.80px;font-size:28px;font-weight:400;letter-spacing:1.375px;color:#0B0B0D;">10m</div>
<div class="t" style="left:1839.75px;top:531.80px;font-size:28px;font-weight:700;letter-spacing:0.273px;color:#0B0B0D;">Container Configuration</div>
<div class="t" style="left:1839.75px;top:602.18px;font-size:24px;font-weight:400;letter-spacing:0.868px;color:#4F5162;-webkit-text-stroke:0.3px #4F5162;">Container Registry</div>
<div class="t" style="left:1856.75px;top:664.30px;font-size:28px;font-weight:400;letter-spacing:1.400px;color:#1A1B22;">Harness GAR Connector</div>
<div class="t" style="left:2323.00px;top:665.48px;font-size:24px;font-weight:400;letter-spacing:0.917px;color:#0A2A5E;">ACCOUNT</div>
<div class="t" style="left:1839.75px;top:803.93px;font-size:24px;font-weight:400;letter-spacing:0.500px;color:#4F5162;-webkit-text-stroke:0.3px #4F5162;">Select DB Schema</div>
<div class="t" style="left:1857.75px;top:858.39px;font-size:27px;font-weight:400;letter-spacing:1.269px;color:#0B0B0D;">db_devops_demo</div>
<div class="t" style="left:1839.75px;top:937.68px;font-size:24px;font-weight:400;letter-spacing:0.691px;color:#4F5162;-webkit-text-stroke:0.3px #4F5162;">Select DB Instance</div>
<div class="t" style="left:1857.75px;top:992.89px;font-size:27px;font-weight:400;letter-spacing:1.875px;color:#0B0B0D;">staging</div>
<div class="t" style="left:1839.75px;top:1071.34px;font-size:25px;font-weight:400;letter-spacing:1.468px;color:#4F5162;-webkit-text-stroke:0.3px #4F5162;">Specify tag to create (optional)</div>
<div class="t" style="left:1863.25px;top:1128.39px;font-size:27px;font-weight:400;letter-spacing:1.452px;color:#1A1B22;">&lt;+stage.variables.tag&gt;</div>
<div class="t" style="left:1839.75px;top:1208.43px;font-size:24px;font-weight:400;letter-spacing:0.821px;color:#1A1B22;-webkit-text-stroke:0.6px #1A1B22;">Global Settings</div>
<div class="t" style="left:2022.00px;top:1208.43px;font-size:24px;font-weight:400;letter-spacing:0.944px;color:#9293AB;">(Optional)</div>
<div class="t" style="left:1840.75px;top:1287.99px;font-size:26px;font-weight:400;letter-spacing:3.625px;color:#2F72CF;">+ Add</div>
<div class="t" style="left:1839.75px;top:1416.80px;font-size:28px;font-weight:700;letter-spacing:0.167px;color:#0B0B0D;">Optional Configuration</div>
<div class="abs" style="left:0;top:1760px;width:2992px;height:66px;background:linear-gradient(to bottom, rgba(0,0,0,0) 0%, rgba(0,0,0,0.03) 35%, rgba(0,0,0,0.07) 70%, rgba(0,0,0,0.115) 100%);-webkit-mask-image:linear-gradient(to right,#000 0,#000 2470px,transparent 2740px);mask-image:linear-gradient(to right,#000 0,#000 2470px,transparent 2740px)"></div><svg class="abs" style="left:2970px;top:1804px" width="22" height="22"><path d="M22 0 V22 H0 A22 22 0 0 0 22 0 Z" fill="#000"/></svg><div class="abs" style="left:0;top:0;width:2992px;height:1px;background:#000"></div>
</body></html>
